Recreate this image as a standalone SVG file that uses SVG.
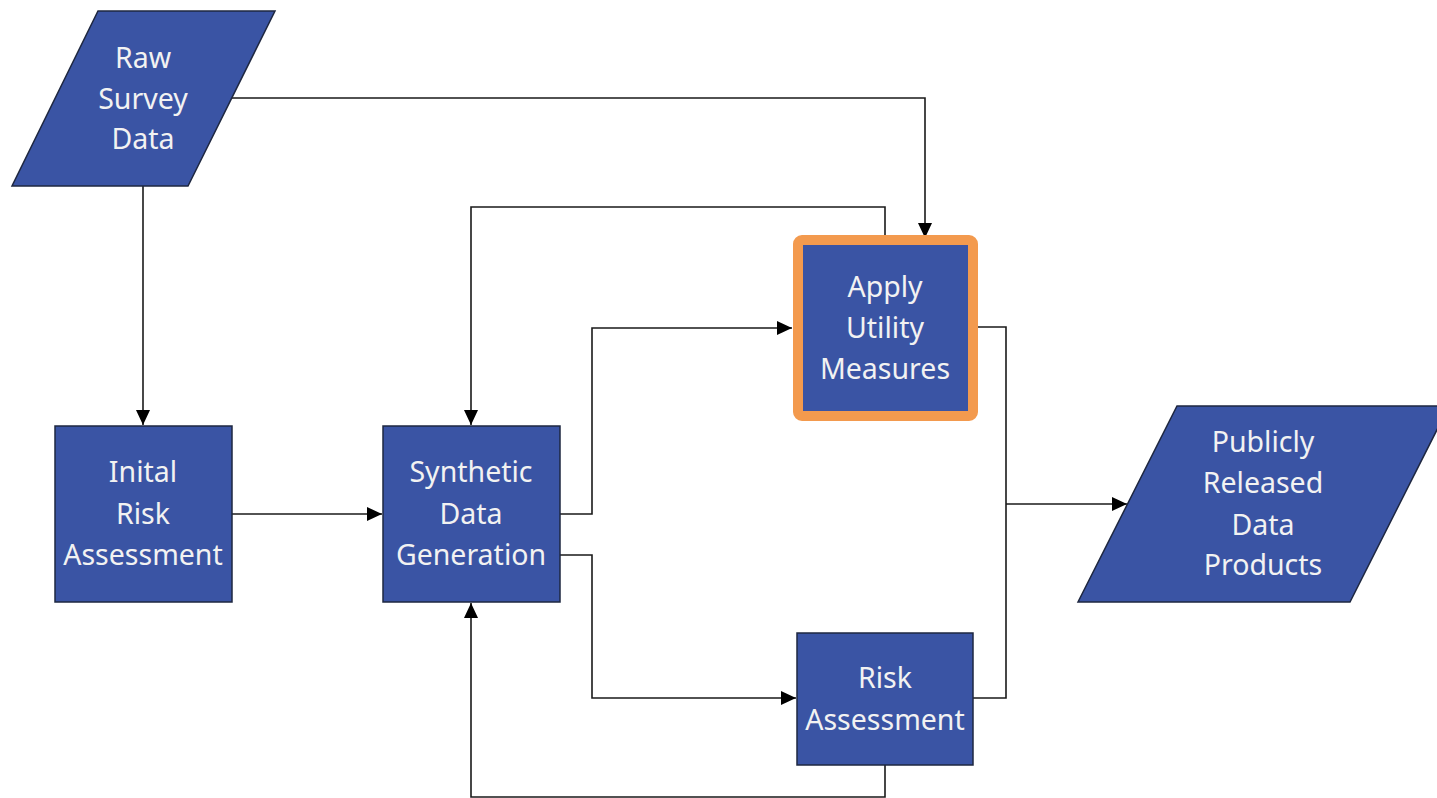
<svg xmlns="http://www.w3.org/2000/svg" width="1437" height="798" viewBox="0 0 1437 798">
<style>
.node{fill:#3A54A4;stroke:#1E2740;stroke-width:1.5}
.hl{fill:#3A54A4;stroke:#F39A4E;stroke-width:10}
.lbl{font-family:"Noto Sans","Open Sans",sans-serif;font-size:28.5px;fill:#F2F2F2;text-anchor:middle}
.conn{fill:none;stroke:#1a1a1a;stroke-width:1.6}
</style>
<defs>
<marker id="arr" markerUnits="userSpaceOnUse" markerWidth="16" markerHeight="14" refX="15" refY="7" orient="auto">
<path d="M0,0 L15,7 L0,14 Z" fill="#000"/>
</marker>
</defs>
<rect width="1437" height="798" fill="#fff"/>
<g id="connectors">
<path class="conn" d="M230,98 H925 V238" marker-end="url(#arr)"/>
<path class="conn" d="M143,186 V425" marker-end="url(#arr)"/>
<path class="conn" d="M232,514 H382" marker-end="url(#arr)"/>
<path class="conn" d="M560,514 H592 V328 H792" marker-end="url(#arr)"/>
<path class="conn" d="M560,555 H592 V698 H796" marker-end="url(#arr)"/>
<path class="conn" d="M885,236 V207 H471 V425" marker-end="url(#arr)"/>
<path class="conn" d="M885,765 V797 H471 V603" marker-end="url(#arr)"/>
<path class="conn" d="M978,327 H1006 V698 H973"/>
<path class="conn" d="M1006,504 H1127" marker-end="url(#arr)"/>
</g>
<g id="raw-survey-data">
<polygon class="node" points="98,11 275,11 188,186 12,186"/>
<text class="lbl" x="143" y="68">Raw</text>
<text class="lbl" x="143" y="109">Survey</text>
<text class="lbl" x="143" y="149">Data</text>
</g>
<g id="initial-risk-assessment">
<rect class="node" x="55" y="426" width="177" height="176"/>
<text class="lbl" x="143" y="482">Inital</text>
<text class="lbl" x="143" y="524">Risk</text>
<text class="lbl" x="143" y="565">Assessment</text>
</g>
<g id="synthetic-data-generation">
<rect class="node" x="383" y="426" width="177" height="176"/>
<text class="lbl" x="471" y="482">Synthetic</text>
<text class="lbl" x="471" y="524">Data</text>
<text class="lbl" x="471" y="565">Generation</text>
</g>
<g id="apply-utility-measures">
<rect class="hl" x="798" y="240" width="175" height="176" rx="4"/>
<text class="lbl" x="885" y="297">Apply</text>
<text class="lbl" x="885" y="338">Utility</text>
<text class="lbl" x="885" y="379">Measures</text>
</g>
<g id="risk-assessment">
<rect class="node" x="797" y="633" width="176" height="132"/>
<text class="lbl" x="885" y="688">Risk</text>
<text class="lbl" x="885" y="730">Assessment</text>
</g>
<g id="publicly-released-data-products">
<polygon class="node" points="1177,406 1449,406 1350,602 1078,602"/>
<text class="lbl" x="1263" y="452">Publicly</text>
<text class="lbl" x="1263" y="493">Released</text>
<text class="lbl" x="1263" y="535">Data</text>
<text class="lbl" x="1263" y="575">Products</text>
</g>
</svg>
